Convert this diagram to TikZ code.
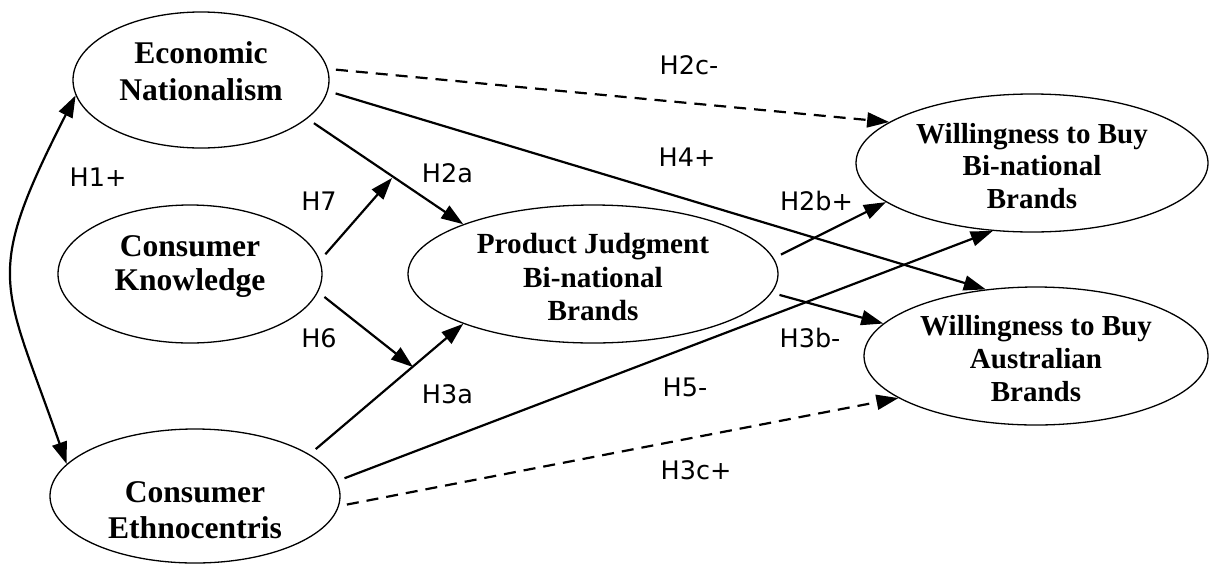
\documentclass[tikz,border=0pt]{standalone}
\usepackage{fontspec}
\setmainfont{Liberation Serif}
\newfontfamily\lblfont{DejaVu Sans}
\usetikzlibrary{arrows.meta,shapes.geometric}
% #1 raise of first baseline above centre, #2 font size, #3 line spacing, #4 lines
\newcommand\vtxt[4]{\raisebox{#1}[0pt][0pt]{\fontsize{#2}{#3}\selectfont\bfseries
  \begin{tabular}[t]{@{}c@{}}#4\end{tabular}}}
\begin{document}
\begin{tikzpicture}[x=1pt,y=-1pt,
  var/.style={ellipse,draw,line width=1.3pt,inner sep=0pt},
  lbl/.style={font=\fontsize{25.5}{30}\selectfont\lblfont,inner sep=0pt},
  edge/.style={line width=2.2pt,-{Triangle[length=22pt,width=15pt]},shorten <=8pt},
  dsh/.style={edge,dash pattern=on 12pt off 8pt}]
\useasboundingbox[fill=white] (0,0) rectangle (1209,563);
% variables
\node[var,minimum width=256pt,minimum height=136pt] (en) at (201,80)
  {\vtxt{16.7pt}{31.6}{36.7}{Economic\\Nationalism}};
\node[var,minimum width=264pt,minimum height=138pt] (ck) at (190,274)
  {\vtxt{17.3pt}{31.6}{33.5}{Consumer\\Knowledge}};
\node[var,minimum width=290pt,minimum height=134pt] (ce) at (195,496)
  {\vtxt{-6.7pt}{31.6}{35.5}{Consumer\\Ethnocentris}};
\node[var,minimum width=370pt,minimum height=138pt] (pj) at (593,274)
  {\vtxt{20.7pt}{29.2}{33.7}{Product Judgment\\Bi-national\\Brands}};
\node[var,minimum width=352pt,minimum height=138pt] (wb) at (1032,163)
  {\vtxt{19.7pt}{29}{32.5}{Willingness to Buy\\Bi-national\\Brands}};
\node[var,minimum width=344pt,minimum height=138pt] (wa) at (1036,356)
  {\vtxt{21pt}{29}{33.3}{Willingness to Buy\\Australian\\Brands}};
\coordinate (m7) at (392,178);
\coordinate (m6) at (413,367);
% connectors
\draw[dsh] (en.5.5) -- (wb.164.6);
\draw[edge] (en.-5.9) -- (wa.127.9);
\draw[edge] (en.-20.9) -- (pj.159.5);
\draw[edge] (ck.6.2) -- (m7);
\draw[edge] (ck.-8.5) -- (m6);
\draw[edge] (ce.20.2) -- (pj.-159.8);
\draw[edge] (ce.6.4) -- (wb.-120.1);
\draw[dsh] (ce.-4.8) -- (wa.-163.2);
\draw[edge] (pj.5.3) -- (wb.-165.1);
\draw[edge] (pj.-6.0) -- (wa.168.4);
\draw[line width=2.2pt,{Triangle[length=22pt,width=15pt]}-{Triangle[length=22pt,width=15pt]}]
  (en.-173.1) .. controls (-18,279) and (3,281) .. (ce.166.6);
% labels
\node[lbl] (l2c) at (689,65) {H2c-};
\node[lbl] (l4) at (687,157) {H4+};
\node[lbl] (l2a) at (447.5,173) {H2a};
\node[lbl] (l1) at (98,177.5) {H1+};
\node[lbl] (l7) at (319,201) {H7};
\node[lbl] (l2b) at (816.5,201) {H2b+};
\node[lbl] (l6) at (319,338) {H6};
\node[lbl] (l3a) at (447.5,394.5) {H3a};
\node[lbl] (l5) at (685,387.5) {H5-};
\node[lbl] (l3b) at (810,338) {H3b-};
\node[lbl] (l3c) at (696,470) {H3c+};
\end{tikzpicture}
\end{document}
